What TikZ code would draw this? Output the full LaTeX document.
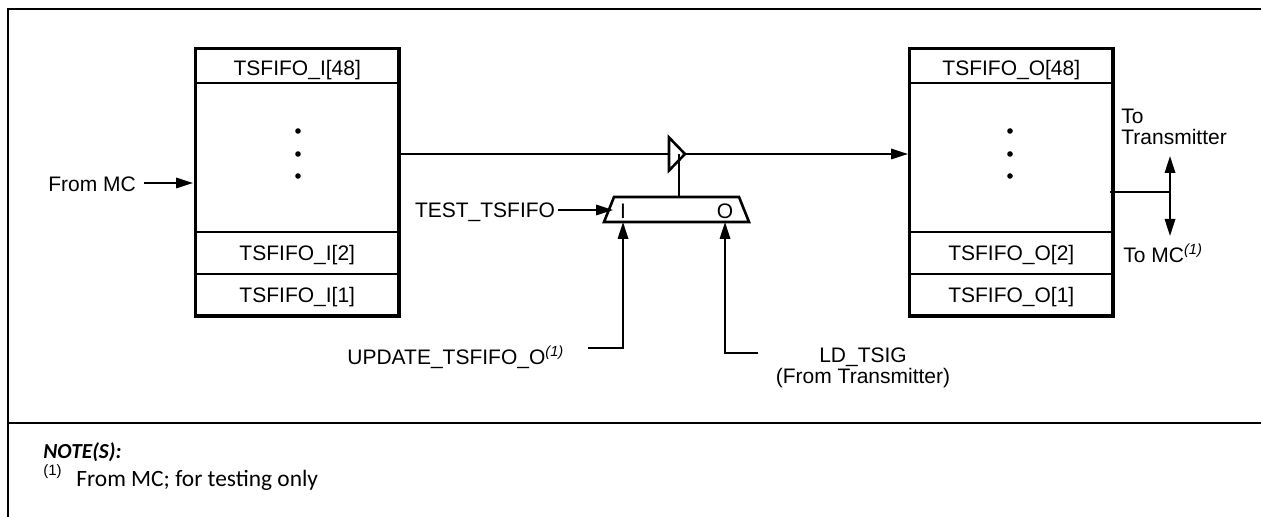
\documentclass[tikz,border=0pt]{standalone}
\usepackage{fontspec}
\setmainfont{Liberation Sans}
\newfontfamily\notefont{Carlito}
\usetikzlibrary{arrows.meta, calc, shapes.geometric}
\tikzset{
wire/.style={line width=1pt},
tip/.style={wire, -{Triangle[length=8.5pt, width=5.2pt]}},
twotip/.style={wire, {Triangle[length=8.5pt, width=5.2pt]}-{Triangle[length=8.5pt, width=5.2pt]}},
label/.style={font=\fontsize{10.5}{10.75}\selectfont, inner sep=0pt, align=center},
cell/.style={label, draw, line width=1pt, outer sep=0pt, minimum width=101.75pt, anchor=north west, text height=7.5pt, text depth=0pt},
mux/.style={draw, line width=1.3pt, trapezium, trapezium stretches body=true, minimum width=72.5pt, minimum height=12.5pt, inner sep=0pt, outer sep=0pt, trapezium left angle=54, trapezium right angle=54},
buffer/.style={draw, line width=1.3pt, isosceles triangle, isosceles triangle stretches=true, minimum width=16.5pt, minimum height=8pt, inner sep=0pt, outer sep=0pt}
}
\begin{document}
\begin{tikzpicture}[x=0.5pt, y=-0.5pt]
\useasboundingbox (0,0) rectangle (1261,517);
  % page frame
  \coordinate (frameTL) at (8,9);
  \coordinate (frameTR) at (1261,9);
  \coordinate (frameBL) at (8,517);
  \coordinate (ruleL) at (8,423);
  \coordinate (ruleR) at (1261,423);
  \draw[wire] (frameTR) -- (frameTL) -- (frameBL);
  \draw[wire] (ruleL) -- (ruleR);
  % input fifo
  \node[cell, minimum height=17.25pt, text height=9.5pt] (in48) at (195.5,48.5) {TSFIFO\_I[48]};
  \node[cell, minimum height=74.5pt] (inmid) at (195.5,83) {};
  \node[cell, minimum height=21pt] (in2) at (195.5,232) {TSFIFO\_I[2]};
  \node[cell, minimum height=21pt] (in1) at (195.5,274) {TSFIFO\_I[1]};
  \draw[line width=1.6pt] (in48.north west) rectangle (in1.south east);
  % output fifo
  \node[cell, minimum height=17.25pt, text height=9.5pt] (out48) at (909.5,48.5) {TSFIFO\_O[48]};
  \node[cell, minimum height=74.5pt] (outmid) at (909.5,83) {};
  \node[cell, minimum height=21pt] (out2) at (909.5,232) {TSFIFO\_O[2]};
  \node[cell, minimum height=21pt] (out1) at (909.5,274) {TSFIFO\_O[1]};
  \draw[line width=1.6pt] (out48.north west) rectangle (out1.south east);
  \foreach \y in {131,154,176} {
    \fill (298,\y) circle [radius=2.8];
    \fill (1010,\y) circle [radius=2.8];
  }
  % test logic
  \node[buffer, anchor=apex] (buf) at (685,154) {};
  \node[mux] (sel) at (676.5,209.5) {\phantom{I}};
  \node[label] (selI) at (623,211) {I};
  \node[label] (selO) at (725,211) {O};
  \coordinate (enable) at ($(buf.lower side)!.6!(buf.apex)$);
  \draw[wire] (enable) -- (enable |- sel.north);
  \coordinate (inport) at (399,154);
  \coordinate (outport) at (908,154);
  \draw[wire] (inport) -- (buf.lower side |- inport);
  \draw[tip] (buf.apex) -- (outport);
  % labels
  \node[label, anchor=base west] (frommc) at (48,191.5) {From MC};
  \coordinate (infifo) at (193,183);
  \coordinate (mcend) at (144,183);
  \draw[tip] (mcend) -- (infifo);
  \node[label, anchor=base east, outer sep=1.5pt] (test) at (558,217.5) {TEST\_TSFIFO};
  \coordinate (selpin) at (613,210);
  \draw[tip] (test.east |- selpin) -- (selpin);
  \node[label, anchor=base west] (update) at (347,364.5) {UPDATE\_TSFIFO\_O\textsuperscript{\itshape (1)}};
  \coordinate (updend) at (588,348);
  \draw[tip] (updend) -| (selI.south |- sel.south);
  \node[label] (ldtsig) at (863,368) {LD\_TSIG\\(From Transmitter)};
  \coordinate (ldend) at (758,353);
  \draw[tip] (ldend) -| (selO.south |- sel.south);
  % output taps
  \coordinate (tapL) at (1110,192);
  \coordinate (tapR) at (1170,192);
  \coordinate (tapU) at (1170,156);
  \coordinate (tapD) at (1170,236);
  \draw[line width=1.4pt] (tapL) -- (tapR);
  \draw[twotip] (tapU) -- (tapD);
  \node[label, anchor=north west, align=left] (totx) at (1121,108.5) {To\\Transmitter};
  \node[label, anchor=base west] (tomc) at (1123,262.5) {To MC\textsuperscript{\itshape (1)}};
  % notes
  \node[anchor=west, inner sep=0pt, font=\notefont\fontsize{10.7}{11}\selectfont\bfseries\itshape] (note) at (43,452) {NOTE(S):};
  \node[anchor=west, inner sep=0pt, font=\fontsize{7.5}{8}\selectfont] (mark) at (43,472) {(1)};
  \node[anchor=west, inner sep=0pt, font=\notefont\fontsize{11.7}{12}\selectfont] (notetext) at (76,480) {From MC; for testing only};
\end{tikzpicture}
\end{document}
